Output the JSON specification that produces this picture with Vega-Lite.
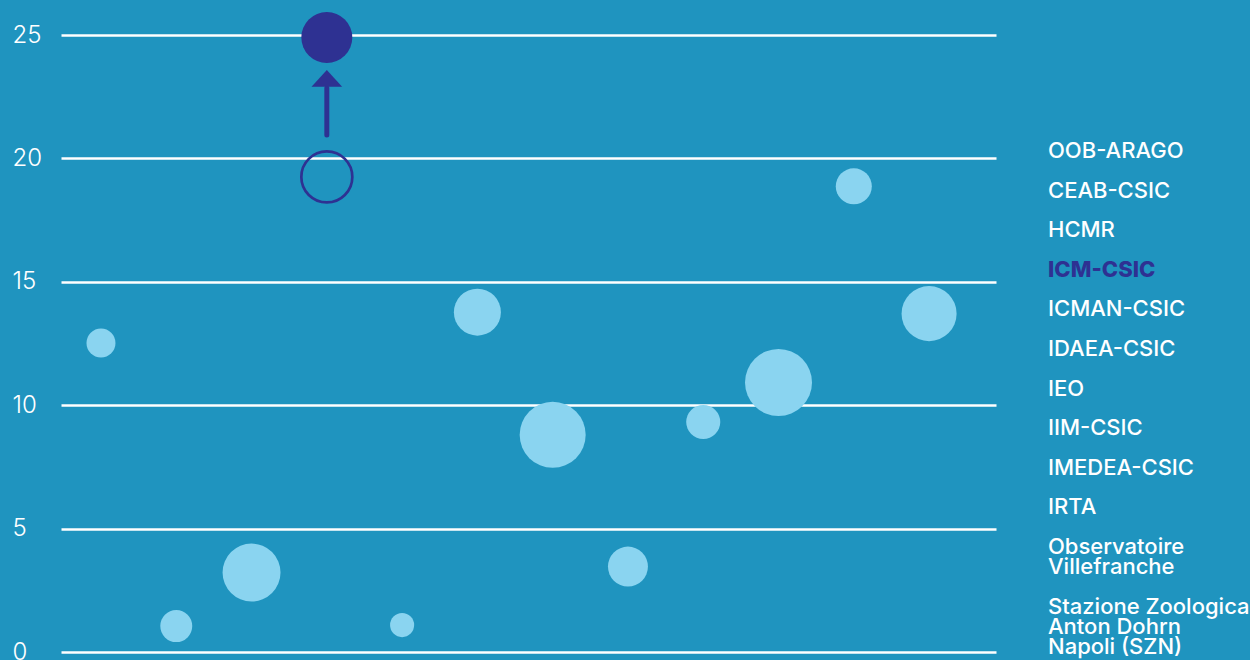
{
  "$schema": "https://vega.github.io/schema/vega-lite/v6.json",
  "width": 935,
  "height": 617,
  "autosize": {"type": "none"},
  "padding": {"left": 61, "top": 35, "right": 254, "bottom": 8},
  "background": "#1f94bf",
  "config": {"view": {"stroke": null}, "font": "Inter"},
  "datasets": {
    "main": [
      {"institution": "OOB-ARAGO", "value": 12.52, "amount": 8.4},
      {"institution": "CEAB-CSIC", "value": 1.05, "amount": 10.2},
      {"institution": "HCMR", "value": 3.22, "amount": 33.6},
      {"institution": "ICM-CSIC", "value": 24.9, "previous": 19.25, "amount": 26},
      {"institution": "ICMAN-CSIC", "value": 1.09, "amount": 5.8},
      {"institution": "IDAEA-CSIC", "value": 13.77, "amount": 22.1},
      {"institution": "IEO", "value": 8.8, "amount": 43.6},
      {"institution": "IIM-CSIC", "value": 3.46, "amount": 16},
      {"institution": "IMEDEA-CSIC", "value": 9.32, "amount": 11.6},
      {"institution": "IRTA", "value": 10.92, "amount": 44.9},
      {"institution": "Observatoire Villefranche", "value": 18.87, "amount": 13},
      {"institution": "Stazione Zoologica Anton Dohrn Napoli (SZN)", "value": 13.71, "amount": 30.3}
    ],
    "arrow": [
      {"institution": "ICM-CSIC", "from": 20.95, "to": 22.85, "head": 23.24}
    ]
  },
  "encoding": {
    "x": {
      "field": "institution",
      "type": "nominal",
      "sort": null,
      "scale": {"type": "point", "padding": 0.71, "align": 0.374, "domain": ["OOB-ARAGO", "CEAB-CSIC", "HCMR", "ICM-CSIC", "ICMAN-CSIC", "IDAEA-CSIC", "IEO", "IIM-CSIC", "IMEDEA-CSIC", "IRTA", "Observatoire Villefranche", "Stazione Zoologica Anton Dohrn Napoli (SZN)"]},
      "axis": null
    }
  },
  "layer": [
    {
      "data": {"name": "main"},
      "mark": {"type": "circle", "opacity": 1},
      "encoding": {
        "y": {
          "field": "value",
          "type": "quantitative",
          "scale": {"domain": [0, 25], "nice": false, "zero": true},
          "axis": {
            "title": null,
            "values": [0, 5, 10, 15, 20, 25],
            "grid": true,
            "gridColor": "#ffffff",
            "gridWidth": 2.6,
            "gridOpacity": 1,
            "domain": false,
            "ticks": false,
            "tickSize": 0,
            "labelAlign": "left",
            "labelPadding": 49,
            "labelFont": "Inter",
            "labelFontSize": 24,
            "labelFontWeight": 300,
            "labelColor": "#ffffff"
          }
        },
        "size": {
          "field": "amount",
          "type": "quantitative",
          "scale": {"type": "linear", "domain": [0, 100], "range": [0, 10000], "zero": true},
          "legend": null
        },
        "color": {
          "field": "institution",
          "type": "nominal",
          "scale": {
            "domain": ["OOB-ARAGO", "CEAB-CSIC", "HCMR", "ICM-CSIC", "ICMAN-CSIC", "IDAEA-CSIC", "IEO", "IIM-CSIC", "IMEDEA-CSIC", "IRTA", "Observatoire Villefranche", "Stazione Zoologica Anton Dohrn Napoli (SZN)"],
            "range": ["#8ad4f0", "#8ad4f0", "#8ad4f0", "#2e3192", "#8ad4f0", "#8ad4f0", "#8ad4f0", "#8ad4f0", "#8ad4f0", "#8ad4f0", "#8ad4f0", "#8ad4f0"]
          },
          "legend": {
            "orient": "none",
            "legendX": 965,
            "legendY": 95,
            "title": null,
            "padding": 0,
            "symbolSize": 0,
            "symbolOpacity": 0,
            "symbolStrokeWidth": 0,
            "labelOffset": 0,
            "labelFont": "Inter",
            "labelFontSize": 22,
            "labelFontWeight": 500,
            "labelColor": "#ffffff",
            "labelLimit": 400,
            "labelBaseline": "top",
            "rowPadding": 7.6,
            "labelExpr": "datum.label == 'Observatoire Villefranche' ? ['Observatoire', 'Villefranche'] : datum.label == 'Stazione Zoologica Anton Dohrn Napoli (SZN)' ? ['Stazione Zoologica', 'Anton Dohrn', 'Napoli (SZN)'] : datum.label",
            "encode": {
              "labels": {
                "update": {
                  "fill": {"signal": "datum.value === 'ICM-CSIC' ? '#2e3192' : '#ffffff'"},
                  "fontWeight": {"signal": "datum.value === 'ICM-CSIC' ? 800 : 500"},
                  "lineHeight": {"value": 20}
                }
              }
            }
          }
        }
      }
    },
    {
      "data": {"name": "main"},
      "transform": [{"filter": "isValid(datum.previous)"}],
      "mark": {"type": "point", "shape": "circle", "filled": false, "stroke": "#2e3192", "strokeWidth": 2.7, "opacity": 1},
      "encoding": {
        "y": {"field": "previous", "type": "quantitative"},
        "size": {"field": "amount", "type": "quantitative"}
      }
    },
    {
      "data": {"name": "arrow"},
      "mark": {"type": "rule", "color": "#2e3192", "strokeWidth": 5, "strokeCap": "round"},
      "encoding": {
        "y": {"field": "from", "type": "quantitative"},
        "y2": {"field": "to"}
      }
    },
    {
      "data": {"name": "arrow"},
      "mark": {"type": "point", "shape": "M0,-0.55L1,0.55L-1,0.55Z", "filled": true, "color": "#2e3192", "opacity": 1, "size": 936},
      "encoding": {
        "y": {"field": "head", "type": "quantitative"}
      }
    }
  ]
}
